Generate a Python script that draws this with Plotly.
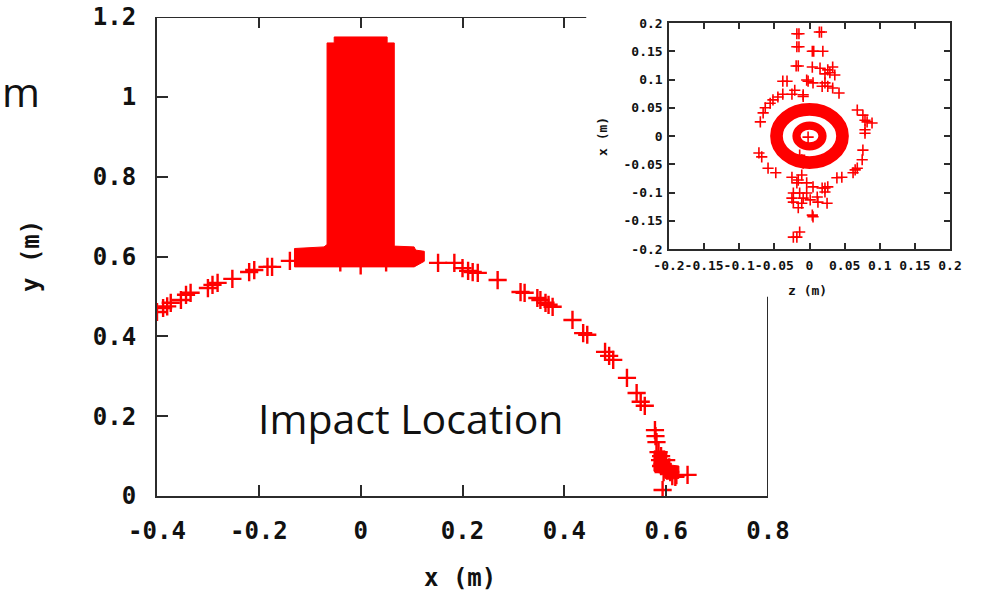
import plotly.graph_objects as go

# ---------------- main panel: impact positions in the x-y plane ----------------
arc_x = [-0.400, -0.388, -0.380, -0.373, -0.353, -0.343, -0.334, -0.300, -0.291, -0.281,
         -0.252, -0.219, -0.209, -0.183, -0.174, -0.139,
         -0.040, 0.000, 0.050,
         0.152, 0.184, 0.200, 0.211, 0.220, 0.230, 0.269, 0.314, 0.322, 0.347, 0.353,
         0.363, 0.369, 0.377, 0.416, 0.437, 0.445, 0.480, 0.488, 0.496, 0.523, 0.542,
         0.550, 0.558, 0.578, 0.579, 0.581,
         0.585, 0.590, 0.588, 0.593, 0.598, 0.603, 0.590, 0.600, 0.608, 0.612, 0.618,
         0.620, 0.595, 0.606, 0.642, 0.593]
arc_y = [0.461, 0.471, 0.475, 0.484, 0.491, 0.504, 0.509, 0.521, 0.529, 0.534,
         0.544, 0.561, 0.566, 0.574, 0.574, 0.589,
         0.585, 0.578, 0.585,
         0.584, 0.584, 0.571, 0.564, 0.561, 0.559, 0.541, 0.511, 0.509, 0.496, 0.491,
         0.484, 0.479, 0.474, 0.441, 0.408, 0.404, 0.361, 0.351, 0.341, 0.296, 0.258,
         0.236, 0.226, 0.165, 0.150, 0.135,
         0.110, 0.100, 0.090, 0.080, 0.070, 0.065, 0.075, 0.090, 0.060, 0.050, 0.048,
         0.052, 0.060, 0.072, 0.053, 0.015]

# saturated region where the impacts overlap completely (outline)
block_x = [-0.130, -0.130, -0.072, -0.066, -0.066, -0.052, -0.052, 0.052, 0.052,
           0.066, 0.066, 0.105, 0.108, 0.125, 0.125, 0.105, -0.130]
block_y = [0.574, 0.620, 0.624, 0.630, 1.135, 1.135, 1.150, 1.150, 1.135,
           1.135, 0.626, 0.624, 0.616, 0.613, 0.588, 0.574, 0.574]

# saturated patch at the foot of the arc (outline)
foot_x = [0.576, 0.598, 0.598, 0.606, 0.625, 0.625, 0.600, 0.592, 0.576, 0.576]
foot_y = [0.113, 0.113, 0.090, 0.078, 0.075, 0.044, 0.042, 0.056, 0.062, 0.113]

main_xticks = [-0.4, -0.2, 0, 0.2, 0.4, 0.6, 0.8]
main_xtext = ["-0.4", "-0.2", "0", "0.2", "0.4", "0.6", "0.8"]
main_yticks = [0, 0.2, 0.4, 0.6, 0.8, 1.0, 1.2]
main_ytext = ["0", "0.2", "0.4", "0.6", "0.8", "1", "1.2"]

# ---------------- inset: impact positions in the z-x plane ----------------
pts_z = [-0.015, -0.018, 0.014, 0.017, -0.015, -0.018, 0.006, 0.004, 0.019,
         -0.016, -0.019, 0.004, 0.015, 0.026, 0.033, 0.029, 0.022, 0.036,
         -0.032, -0.038, -0.004, -0.002, 0.005, 0.018, 0.022, 0.033, 0.026, 0.042,
         -0.021, -0.009, -0.009, -0.025, -0.038, -0.045, -0.052, -0.056, -0.063,
         -0.066, -0.070,
         0.068, 0.076, 0.079, 0.082, 0.089, 0.079, 0.079, 0.076, 0.075, 0.068,
         0.062, 0.065,
         -0.072, -0.068, -0.059, -0.048,
         -0.014, -0.011, -0.009, -0.025, -0.011, -0.018, -0.004, 0.005, 0.022, 0.022,
         -0.023, -0.014, -0.004, 0.011, -0.023, -0.011, 0.012, 0.025, -0.016, 0.004,
         0.005, -0.016, 0.001, -0.009, -0.025, 0.018, 0.026,
         -0.014, -0.023, -0.018,
         0.039, 0.046,
         -0.002]
pts_x = [0.181, 0.181, 0.184, 0.184, 0.158, 0.158, 0.150, 0.150, 0.150,
         0.124, 0.124, 0.122, 0.120, 0.117, 0.122, 0.112, 0.110, 0.108,
         0.097, 0.097, 0.099, 0.097, 0.094, 0.088, 0.094, 0.085, 0.088, 0.076,
         0.081, 0.073, 0.070, 0.074, 0.074, 0.069, 0.064, 0.058, 0.050,
         0.041, 0.025,
         0.046, 0.037, 0.028, 0.025, 0.023, 0.011, 0.005, -0.025, -0.042, -0.057,
         -0.065, -0.060,
         -0.030, -0.037, -0.057, -0.065,
         -0.034, -0.042, -0.048, -0.073, -0.069, -0.083, -0.083, -0.090, -0.092, -0.099,
         -0.101, -0.101, -0.101, -0.108, -0.117, -0.119, -0.117, -0.119, -0.127, -0.140,
         -0.143, -0.078, -0.113, -0.110, -0.110, -0.092, -0.090,
         -0.170, -0.179, -0.179,
         -0.074, -0.073,
         -0.002]

# two saturated rings centred on the origin (inner / outer radius)
ring_r_in = [0.012, 0.037]
ring_r_out = [0.025, 0.057]

inset_ticks = [-0.2, -0.15, -0.1, -0.05, 0, 0.05, 0.1, 0.15, 0.2]
inset_text = ["-0.2", "-0.15", "-0.1", "-0.05", "0", "0.05", "0.1", "0.15", "0.2"]

# ---------------- layout geometry ----------------
W, H = 982, 595
RED = "#ff0000"
AX = "#2b2b2b"
MONO = "DejaVu Sans Mono"


def px_x(p):
    return p / W


def px_y(p):
    return 1 - p / H


main_dom_x = [px_x(157), px_x(768)]
main_dom_y = [px_y(496), px_y(17)]
ins_dom_x = [px_x(669), px_x(950)]
ins_dom_y = [px_y(249), px_y(23)]

fig = go.Figure()

for ox, oy in ((block_x, block_y), (foot_x, foot_y)):
    fig.add_trace(go.Scatter(
        x=ox, y=oy, mode="lines", fill="toself",
        fillcolor=RED, line=dict(color=RED, width=1), hoverinfo="skip",
        showlegend=False, xaxis="x", yaxis="y"))

fig.add_trace(go.Scatter(
    x=arc_x, y=arc_y, mode="markers",
    marker=dict(symbol="cross-thin", size=13, line=dict(color=RED, width=2.4)),
    showlegend=False, xaxis="x", yaxis="y"))

# helper trace carrying the mirrored top ticks of the main frame
fig.add_trace(go.Scatter(x=[None], y=[None], xaxis="x3", yaxis="y",
                         showlegend=False, hoverinfo="skip"))

fig.add_trace(go.Scatter(
    x=pts_z, y=pts_x, mode="markers",
    marker=dict(symbol="cross-thin", size=8, line=dict(color=RED, width=1.6)),
    showlegend=False, xaxis="x2", yaxis="y2"))

main_tick_font = dict(family=MONO, size=24, color="#111", weight="bold")
ins_tick_font = dict(family=MONO, size=13, color="#111", weight="bold")

fig.update_layout(
    width=W, height=H,
    margin=dict(l=0, r=0, t=0, b=0, autoexpand=False),
    paper_bgcolor="white", plot_bgcolor="rgba(0,0,0,0)",
    showlegend=False,
    xaxis=dict(domain=main_dom_x, range=[-0.4, 0.8], anchor="y", automargin=False,
               tickvals=main_xticks, ticktext=main_xtext, tickangle=0,
               ticks="inside", ticklen=11, tickwidth=2, tickcolor=AX,
               showline=True, linewidth=2, linecolor=AX,
               showgrid=False, zeroline=False, tickfont=main_tick_font,
               ticklabelstandoff=12),
    yaxis=dict(domain=main_dom_y, range=[0, 1.2], anchor="x", automargin=False,
               tickvals=main_yticks, ticktext=main_ytext,
               ticks="inside", ticklen=11, tickwidth=2, tickcolor=AX,
               showline=True, linewidth=2, linecolor=AX,
               showgrid=False, zeroline=False, tickfont=main_tick_font,
               ticklabelstandoff=14),
    xaxis3=dict(overlaying="x", side="top", anchor="y", range=[-0.4, 0.8],
                automargin=False,
                tickvals=[-0.2, 0, 0.2, 0.4], showticklabels=False,
                ticks="inside", ticklen=11, tickwidth=2, tickcolor=AX,
                showline=False, showgrid=False, zeroline=False),
    xaxis2=dict(domain=ins_dom_x, range=[-0.2, 0.2], anchor="y2", automargin=False,
                tickvals=inset_ticks, ticktext=inset_text, tickangle=0,
                ticks="inside", ticklen=6, tickwidth=1.5, tickcolor=AX,
                showline=True, linewidth=1.5, linecolor=AX, mirror="allticks",
                showgrid=False, zeroline=False, tickfont=ins_tick_font,
                ticklabelstandoff=4),
    yaxis2=dict(domain=ins_dom_y, range=[-0.2, 0.2], anchor="x2", automargin=False,
                tickvals=inset_ticks, ticktext=inset_text,
                ticks="inside", ticklen=6, tickwidth=1.5, tickcolor=AX,
                showline=True, linewidth=1.5, linecolor=AX, mirror="allticks",
                showgrid=False, zeroline=False, tickfont=ins_tick_font,
                ticklabelstandoff=2),
)

# partial top and right frame lines of the main panel (the inset sits in the corner)
fig.add_shape(type="line", xref="x", yref="y", x0=-0.4, x1=0.443, y0=1.2, y1=1.2,
              line=dict(color=AX, width=2))
fig.add_shape(type="line", xref="x", yref="y", x0=0.8, x1=0.8, y0=0, y1=0.499,
              line=dict(color=AX, width=2))

# rings of the inset, stroked at their mid radius
scale_px = 0.5 * ((950 - 669) / 0.4 + (249 - 23) / 0.4)
for r_in, r_out in zip(ring_r_in, ring_r_out):
    r_mid = 0.5 * (r_in + r_out)
    fig.add_shape(type="circle", xref="x2", yref="y2",
                  x0=-r_mid, x1=r_mid, y0=-r_mid, y1=r_mid,
                  line=dict(color=RED, width=(r_out - r_in) * scale_px), layer="below")

label_font = dict(family=MONO, size=24, color="#111", weight="bold")
small_label = dict(family=MONO, size=13, color="#111", weight="bold")
slide_font = dict(family="Open Sans", size=41, color="#111")

annotations = [
    dict(text="x (m)", x=px_x(460), y=px_y(578), font=label_font),
    dict(text="y (m)", x=px_x(31), y=px_y(256), font=label_font, textangle=-90),
    dict(text="z (m)", x=px_x(807), y=px_y(290), font=small_label),
    dict(text="x (m)", x=px_x(603), y=px_y(137), font=small_label, textangle=-90),
    dict(text="Impact Location", x=px_x(410), y=px_y(418), font=slide_font),
    dict(text="m", x=0.0, y=px_y(91), font=dict(family="Open Sans", size=41, color="#111"),
         xanchor="left"),
]
for a in annotations:
    a.setdefault("xanchor", "center")
    fig.add_annotation(xref="paper", yref="paper", showarrow=False, yanchor="middle", **a)

fig.write_html("out.html")
